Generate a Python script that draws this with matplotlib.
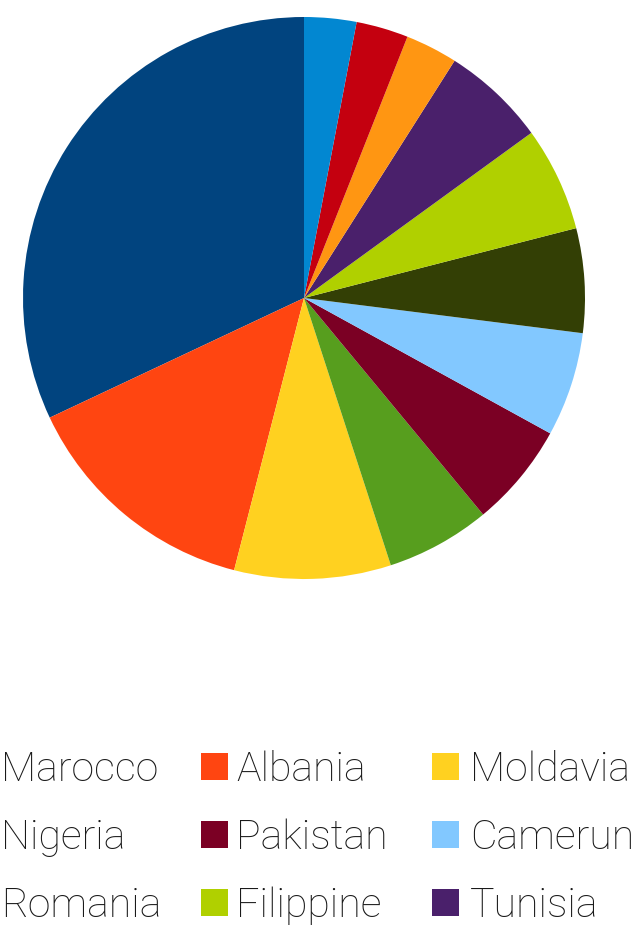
import matplotlib
matplotlib.use("Agg")
import matplotlib.pyplot as plt
from matplotlib.patches import Rectangle

W, H = 641, 939

# quote percentuali per paese
values = [32, 14, 9, 6, 6, 6, 6, 6, 6, 3, 3, 3]
colors = ['#01447F', '#FF4511', '#FFD120', '#579E1E', '#7B0024', '#82C8FF',
          '#333F05', '#B0D000', '#4A206B', '#FF9612', '#C4000F', '#0287D1']
legend_labels = ['Marocco', 'Albania', 'Moldavia',
                 'Nigeria', 'Pakistan', 'Camerun',
                 'Romania', 'Filippine', 'Tunisia']

fig = plt.figure(figsize=(W / 100, H / 100), dpi=100)

# torta: centro (304, 298) px, raggio 281 px
cx, cy, r = 304, 298, 281
ax = fig.add_axes([(cx - r) / W, (H - cy - r) / H, 2 * r / W, 2 * r / H])
ax.pie(values, colors=colors, startangle=90, counterclock=True,
       wedgeprops=dict(linewidth=0))
ax.set_xlim(-1, 1)
ax.set_ylim(-1, 1)
ax.set_aspect('equal')
ax.axis('off')

# legenda a 3 colonne, la prima tagliata a sinistra
text_x = [1, 236, 470]
marker_x = [-34, 201, 432]
baselines = [781, 849, 917]
sq = 27

for i, lab in enumerate(legend_labels):
    row, col = divmod(i, 3)
    by = baselines[row]
    rect = Rectangle((marker_x[col] / W, 1 - (by - 1) / H), sq / W, sq / H,
                     transform=fig.transFigure, facecolor=colors[i],
                     edgecolor='none')
    fig.add_artist(rect)
    fig.text(text_x[col] / W, 1 - by / H, lab, fontsize=29.5,
             family=['Roboto', 'DejaVu Sans'], fontweight='light',
             color='#1a1a1a', va='baseline', ha='left')

fig.savefig('out.png', dpi=100)
